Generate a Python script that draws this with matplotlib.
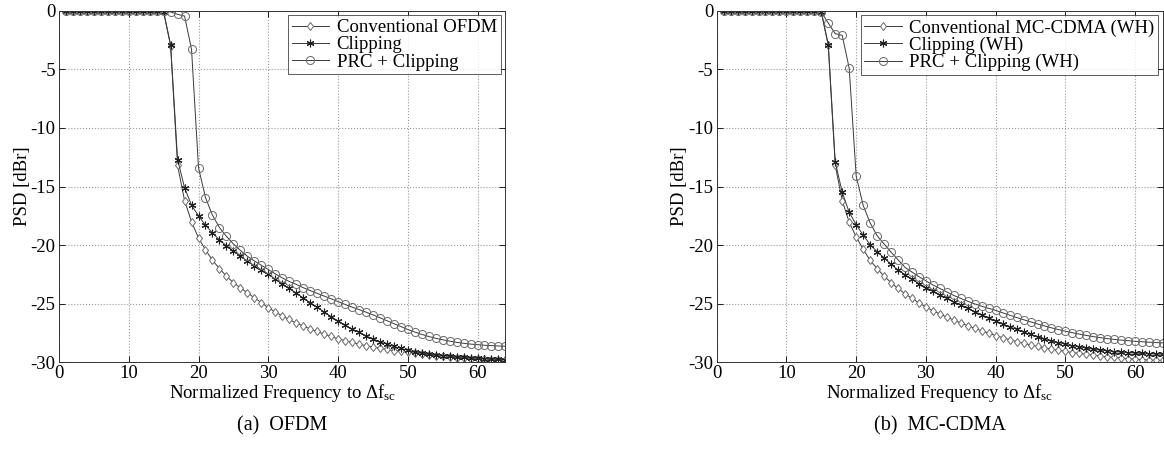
import numpy as np
import matplotlib
matplotlib.use("Agg")
import matplotlib.pyplot as plt

plt.rcParams['font.family'] = ['Liberation Serif', 'DejaVu Serif']
plt.rcParams['mathtext.fontset'] = 'custom'
plt.rcParams['mathtext.rm'] = 'Liberation Serif'
plt.rcParams['mathtext.it'] = 'Liberation Serif:italic'

# normalized frequency (subcarrier index)
freq = list(range(1, 65))

# (a) OFDM
ofdm_conv = [0] * 14 + [
    -0.1, -3.0, -13.2, -16.2, -18.0, -19.4, -20.4, -21.3, -22.0, -22.65,
    -23.2, -23.65, -24.06, -24.5, -24.9, -25.35, -25.7, -26.05, -26.35, -26.65,
    -26.9, -27.15, -27.37, -27.6, -27.8, -28.0, -28.15, -28.3, -28.45, -28.58,
    -28.7, -28.8, -28.9, -29.0, -29.07, -29.14, -29.22, -29.3, -29.37, -29.44,
    -29.5, -29.55, -29.6, -29.64, -29.68, -29.71, -29.74, -29.77, -29.8, -29.82]
ofdm_clip = [0] * 14 + [
    -0.1, -2.9, -12.7, -15.1, -16.6, -17.5, -18.3, -18.95, -19.55, -20.05,
    -20.5, -20.95, -21.35, -21.75, -22.13, -22.5, -22.9, -23.3, -23.7, -24.1,
    -24.5, -24.9, -25.3, -25.7, -26.1, -26.5, -26.85, -27.15, -27.45, -27.75,
    -28.0, -28.25, -28.45, -28.65, -28.82, -28.97, -29.1, -29.2, -29.3, -29.37,
    -29.43, -29.48, -29.53, -29.58, -29.62, -29.66, -29.7, -29.73, -29.76, -29.78]
ofdm_prc = [0] * 15 + [
    -0.1, -0.3, -0.45, -3.3, -13.4, -15.95, -17.45, -18.5, -19.25,
    -19.9, -20.45, -20.95, -21.35, -21.72, -22.08, -22.45, -22.8, -23.1, -23.35,
    -23.63, -23.88, -24.12, -24.35, -24.58, -24.82, -25.06, -25.29, -25.5, -25.72,
    -25.95, -26.2, -26.45, -26.7, -26.95, -27.2, -27.42, -27.62, -27.8, -27.95,
    -28.08, -28.2, -28.3, -28.38, -28.45, -28.5, -28.55, -28.58, -28.61, -28.63]

# (b) MC-CDMA
mc_conv = [0] * 14 + [
    -0.1, -2.95, -13.2, -16.2, -18.05, -19.3, -20.35, -21.3, -22.0, -22.65,
    -23.2, -23.7, -24.15, -24.55, -24.93, -25.3, -25.6, -25.88, -26.15, -26.4,
    -26.65, -26.88, -27.1, -27.32, -27.52, -27.72, -27.9, -28.07, -28.23, -28.38,
    -28.52, -28.65, -28.77, -28.88, -28.98, -29.08, -29.17, -29.25, -29.33, -29.4,
    -29.47, -29.53, -29.59, -29.64, -29.69, -29.73, -29.77, -29.8, -29.83, -29.85]
mc_clip = [0] * 14 + [
    -0.1, -2.9, -12.9, -15.5, -17.2, -18.25, -19.15, -19.95, -20.57, -21.08,
    -21.65, -22.12, -22.52, -22.92, -23.28, -23.62, -23.94, -24.25, -24.55, -24.84,
    -25.12, -25.4, -25.68, -25.95, -26.22, -26.48, -26.73, -26.97, -27.2, -27.42,
    -27.63, -27.82, -28.0, -28.17, -28.32, -28.46, -28.58, -28.69, -28.79, -28.88,
    -28.96, -29.03, -29.09, -29.14, -29.18, -29.22, -29.25, -29.28, -29.3, -29.32]
mc_prc = [0] * 14 + [
    -0.1, -1.05, -1.95, -2.1, -4.9, -14.1, -16.6, -18.1, -19.2, -19.9,
    -20.6, -21.25, -21.9, -22.3, -22.7, -23.05, -23.4, -23.7, -24.0, -24.3,
    -24.55, -24.8, -25.02, -25.22, -25.4, -25.57, -25.78, -25.98, -26.18, -26.37,
    -26.55, -26.73, -26.9, -27.06, -27.21, -27.35, -27.48, -27.6, -27.71, -27.81,
    -27.9, -27.98, -28.05, -28.11, -28.16, -28.21, -28.25, -28.29, -28.32, -28.35]

labels_a = ['Conventional OFDM', 'Clipping', 'PRC + Clipping']
labels_b = ['Conventional MC-CDMA (WH)', 'Clipping (WH)', 'PRC + Clipping (WH)']
captions = ['(a)  OFDM', '(b)  MC-CDMA']

line_col = '#3a3a3a'
fs = 13.5

fig = plt.figure(figsize=(11.64, 4.5), dpi=100)
ax_a = fig.add_axes([0.0507, 0.195, 0.3835, 0.781])
ax_b = fig.add_axes([0.6157, 0.195, 0.3835, 0.781])

asterisk = (6, 2, 0)


def draw(ax, conv, clip, prc, labels, caption):
    ax.plot(freq, conv, '-', color=line_col, lw=0.7, marker='d', ms=4.5,
            mfc='white', mec='#6a6a6a', mew=0.7, label=labels[0])
    ax.plot(freq, clip, '-', color=line_col, lw=0.7, marker=asterisk, ms=5.5,
            mfc='#202020', mec='#202020', mew=0.8, label=labels[1])
    ax.plot(freq, prc, '-', color=line_col, lw=0.7, marker='o', ms=5.8,
            mfc='none', mec='#6a6a6a', mew=0.7, label=labels[2])
    ax.set_xlim(0, 64)
    ax.set_ylim(-30, 0)
    ax.set_xticks([0, 10, 20, 30, 40, 50, 60])
    ax.set_yticks([0, -5, -10, -15, -20, -25, -30])
    ax.set_yticklabels(['0', '-5', '-10', '-15', '-20', '-25', '-30'])
    ax.grid(True, linestyle=':', color='#999999', lw=0.8)
    ax.tick_params(direction='in', top=True, right=True, labelsize=fs,
                   length=4, width=0.6)
    ax.tick_params(axis='x', pad=2)
    ax.tick_params(axis='y', pad=2.5)
    for s in ax.spines.values():
        s.set_linewidth(0.7)
        s.set_color('#333333')
    ax.set_xlabel(r'Normalized Frequency to $\Delta\mathrm{f}_{\mathrm{sc}}$',
                  fontsize=fs, labelpad=0)
    ax.set_ylabel('PSD [dBr]', fontsize=fs, labelpad=0)
    leg = ax.legend(loc='upper right', fontsize=fs, frameon=True, fancybox=False,
                    handlelength=2.0, borderpad=0.2, labelspacing=0.0,
                    handletextpad=0.4, borderaxespad=0.25)
    leg.get_frame().set_edgecolor('#333333')
    leg.get_frame().set_linewidth(0.7)
    pos = ax.get_position()
    fig.text((pos.x0 + pos.x1) / 2, 0.053, caption, ha='center', va='center',
             fontsize=fs + 1)


draw(ax_a, ofdm_conv, ofdm_clip, ofdm_prc, labels_a, captions[0])
draw(ax_b, mc_conv, mc_clip, mc_prc, labels_b, captions[1])

fig.savefig('out.png', dpi=100)
